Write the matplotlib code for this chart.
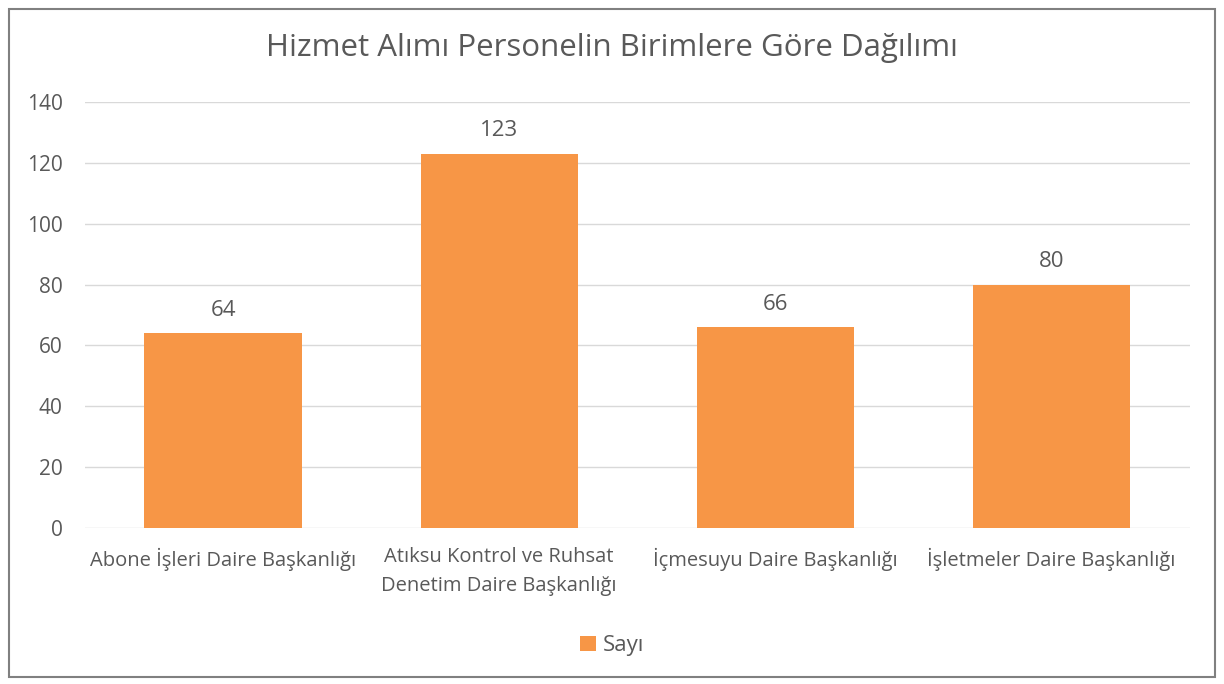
import matplotlib
matplotlib.use("Agg")
import matplotlib.pyplot as plt
from matplotlib.patches import Rectangle

plt.rcParams['font.family'] = ['Open Sans', 'DejaVu Sans']

birimler = ['Abone İşleri Daire Başkanlığı',
            'Atıksu Kontrol ve Ruhsat\nDenetim Daire Başkanlığı',
            'İçmesuyu Daire Başkanlığı',
            'İşletmeler Daire Başkanlığı']
sayi = [64, 123, 66, 80]
yticks = [0, 20, 40, 60, 80, 100, 120, 140]

renk = '#F79646'
yazi = '#595959'

fig = plt.figure(figsize=(12.24, 6.84), dpi=100)
ax = fig.add_axes([0.0694, 0.228, 0.9026, 0.623])

x = range(len(birimler))
bars = ax.bar(x, sayi, width=0.57, color=renk, label='Sayı', zorder=3)

ax.set_xlim(-0.5, len(birimler) - 0.5)
ax.set_ylim(0, 140)
ax.set_yticks(yticks)
ax.set_xticks(list(x))
ax.set_xticklabels(birimler, fontsize=14.5, color=yazi, linespacing=1.6)
ax.tick_params(axis='y', labelsize=15, labelcolor=yazi, length=0, pad=16)
ax.tick_params(axis='x', length=0, pad=14)
ax.grid(axis='y', color='#D9D9D9', linewidth=1, zorder=0)
for s in ax.spines.values():
    s.set_visible(False)

for b, v in zip(bars, sayi):
    ax.annotate(str(v), (b.get_x() + b.get_width() / 2, v),
                xytext=(0, 9), textcoords='offset points',
                ha='center', va='bottom', fontsize=16, color=yazi)

fig.text(0.5, 0.93, 'Hizmet Alımı Personelin Birimlere Göre Dağılımı',
         ha='center', va='center', fontsize=22.5, color=yazi)

fig.legend(loc='center', bbox_to_anchor=(0.5, 0.056), frameon=False,
           fontsize=16, labelcolor=yazi, handlelength=0.7, handleheight=0.7,
           handletextpad=0.3)

fig.patches.append(Rectangle((0.007, 0.01), 0.986, 0.977, transform=fig.transFigure,
                             fill=False, edgecolor='#808080', linewidth=1.5))

fig.savefig('out.png', dpi=100)
